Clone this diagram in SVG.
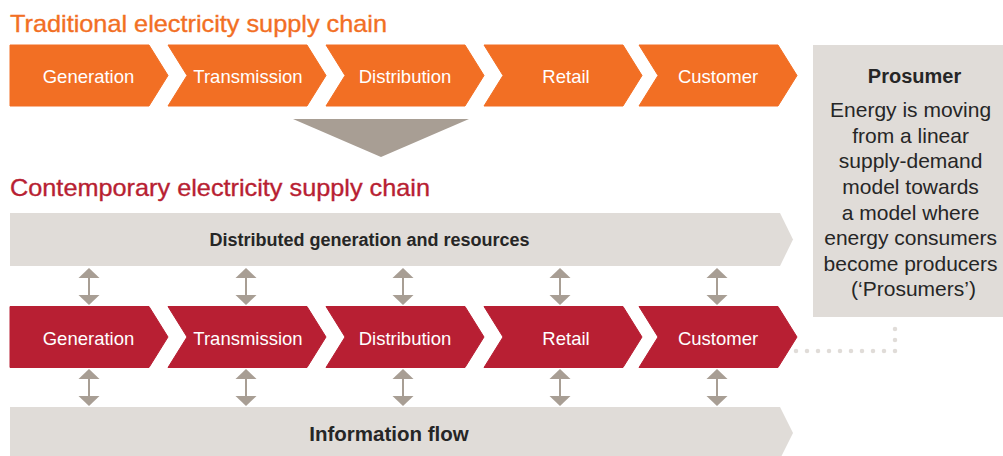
<svg xmlns="http://www.w3.org/2000/svg" width="1003" height="456" viewBox="0 0 1003 456">
  <defs>
    <style>
      .title { font-family: "Liberation Sans", Arial, sans-serif; font-size: 24px; stroke-width: 0.35; }
      .orange { fill: #f26f24; stroke: #f26f24; }
      .red { fill: #b81f33; stroke: #b81f33; }
      .band { fill: #e0dcd8; }
      .step { font-family: "Liberation Sans", Arial, sans-serif; font-size: 18.5px; fill: #ffffff; text-anchor: middle; }
      .bandtxt { font-family: "Liberation Sans", Arial, sans-serif; font-weight: bold; fill: #262626; text-anchor: middle; }
      .body { font-family: "Liberation Sans", Arial, sans-serif; font-size: 21px; fill: #262626; text-anchor: middle; }
      .shaft { stroke: #a89e94; stroke-width: 2; }
      .head { fill: #a89e94; }
      .dots { fill: none; stroke: #e0dcd8; stroke-width: 4.5; stroke-linecap: round; stroke-dasharray: 0 11; }
    </style>
    <!-- chevron: 158 wide, 61 tall, notch and point 19 deep -->
    <path id="chev" d="M0,0 H139 L158,30.5 L139,61 H0 L19,30.5 Z"/>
    <path id="chevFirst" d="M0,0 H139 L158,30.5 L139,61 H0 Z"/>
    <!-- vertical double-headed arrow, 37 tall -->
    <g id="dbl">
      <line class="shaft" x1="0" y1="8" x2="0" y2="29"/>
      <path class="head" d="M-10.5,10 L0,0 L10.5,10 Z"/>
      <path class="head" d="M-10.5,27 L0,37 L10.5,27 Z"/>
    </g>
  </defs>

  <!-- Traditional chain -->
  <text class="title orange" x="10" y="32" textLength="377" lengthAdjust="spacingAndGlyphs">Traditional electricity supply chain</text>
  <g id="trad-generation">
    <use href="#chevFirst" class="orange" x="10" y="45"/>
    <text class="step" x="88.5" y="83">Generation</text>
  </g>
  <g id="trad-transmission">
    <use href="#chev" class="orange" x="168" y="45"/>
    <text class="step" x="248" y="83">Transmission</text>
  </g>
  <g id="trad-distribution">
    <use href="#chev" class="orange" x="326" y="45"/>
    <text class="step" x="405" y="83">Distribution</text>
  </g>
  <g id="trad-retail">
    <use href="#chev" class="orange" x="484" y="45"/>
    <text class="step" x="566" y="83">Retail</text>
  </g>
  <g id="trad-customer">
    <use href="#chev" class="orange" x="639" y="45"/>
    <text class="step" x="718" y="83">Customer</text>
  </g>

  <!-- transition triangle -->
  <path id="shift" d="M293,119 H469 L381,157 Z" fill="#a89e94"/>

  <!-- Contemporary chain -->
  <text class="title red" x="10" y="196" textLength="420" lengthAdjust="spacingAndGlyphs">Contemporary electricity supply chain</text>

  <g id="distributed-band">
    <path class="band" d="M10,213 H780 L793,239.5 L780,266 H10 Z"/>
    <text class="bandtxt" x="369.5" y="245.5" font-size="18">Distributed generation and resources</text>
  </g>

  <g id="cont-generation">
    <use href="#chevFirst" class="red" x="10" y="306.5"/>
    <text class="step" x="88.5" y="345">Generation</text>
  </g>
  <g id="cont-transmission">
    <use href="#chev" class="red" x="168" y="306.5"/>
    <text class="step" x="248" y="345">Transmission</text>
  </g>
  <g id="cont-distribution">
    <use href="#chev" class="red" x="326" y="306.5"/>
    <text class="step" x="405" y="345">Distribution</text>
  </g>
  <g id="cont-retail">
    <use href="#chev" class="red" x="484" y="306.5"/>
    <text class="step" x="566" y="345">Retail</text>
  </g>
  <g id="cont-customer">
    <use href="#chev" class="red" x="639" y="306.5"/>
    <text class="step" x="718" y="345">Customer</text>
  </g>

  <g id="info-band">
    <path class="band" d="M10,407 H780 L793,433 L780,459 H10 Z"/>
    <text class="bandtxt" x="389" y="441" font-size="20.5">Information flow</text>
  </g>

  <g id="prosumer">
    <rect class="band" x="813" y="45" width="195" height="272"/>
    <text class="bandtxt" x="914.5" y="83" font-size="20">Prosumer</text>
    <text class="body">
      <tspan x="913.5" y="117">Energy is moving</tspan>
      <tspan x="913.5" y="142.5">from a linear</tspan>
      <tspan x="913.5" y="168">supply-demand</tspan>
      <tspan x="913.5" y="194">model towards</tspan>
      <tspan x="913.5" y="219.5">a model where</tspan>
      <tspan x="913.5" y="245">energy consumers</tspan>
      <tspan x="913.5" y="271">become producers</tspan>
      <tspan x="913.5" y="296">(‘Prosumers’)</tspan>
    </text>
  </g>

  <!-- connectors -->
  <g id="connectors">
    <use href="#dbl" x="89" y="268"/>
    <use href="#dbl" x="246" y="268"/>
    <use href="#dbl" x="403" y="268"/>
    <use href="#dbl" x="560" y="268"/>
    <use href="#dbl" x="717" y="268"/>
    <use href="#dbl" x="89" y="369"/>
    <use href="#dbl" x="246" y="369"/>
    <use href="#dbl" x="403" y="369"/>
    <use href="#dbl" x="560" y="369"/>
    <use href="#dbl" x="717" y="369"/>
    <path class="dots" d="M796,351 H895 V320"/>
  </g>
</svg>
